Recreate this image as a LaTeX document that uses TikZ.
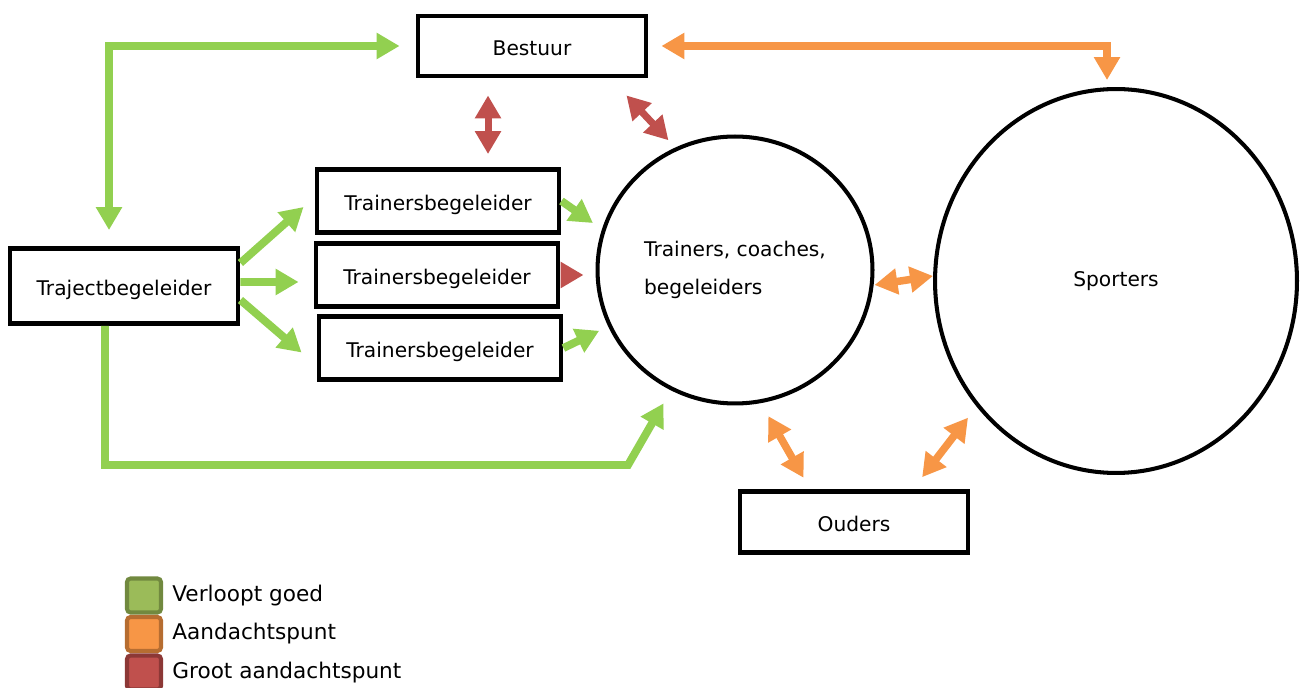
\documentclass[tikz,border=0pt]{standalone}
\usepackage{fontspec}
\setmainfont{DejaVu Sans}
\usetikzlibrary{arrows.meta,shapes.geometric,positioning}

\definecolor{goodgreen}{HTML}{92D050}
\definecolor{warnorange}{HTML}{F79646}
\definecolor{alertred}{HTML}{C0504D}
\definecolor{keygreen}{HTML}{9BBB59}
\definecolor{keygreenline}{HTML}{71893F}
\definecolor{keyorangeline}{HTML}{B66D31}
\definecolor{keyredline}{HTML}{8C3836}

\tikzset{
  box/.style={draw,line width=2.8pt,inner sep=0pt,minimum width=4.56cm,minimum height=1.2cm,
    text height=10.6pt,text depth=0pt,font=\fontsize{11.5}{14}\selectfont},
  tbbox/.style={box,minimum width=4.84cm,minimum height=1.26cm},
  ring/.style={draw,ellipse,line width=2.3pt,inner sep=0pt,align=left,
    font=\fontsize{11.5}{21.5}\selectfont},
  good/.style={goodgreen,line width=4.5pt,line join=miter},
  warn/.style={warnorange,line width=4.3pt,line join=miter},
  alert/.style={alertred,line width=4pt},
  keybox/.style={draw,line width=2.3pt,rounded corners=2pt,minimum size=0.68cm,inner sep=0pt},
  keytext/.style={inner sep=0pt,anchor=west,font=\fontsize{12.3}{14}\selectfont}
}

\begin{document}
\begin{tikzpicture}[x=0.02cm,y=-0.02cm,>={Triangle[length=0.46cm,width=0.5cm]}]
\useasboundingbox (0,0) rectangle (1300,688);

% boxes and circles
\node[box] (bestuur) at (532,46) {Bestuur};
\node[box,minimum height=1.5cm] (traject) at (124,286) {Trajectbegeleider};
\node[tbbox] (tb1) at (438,201) {Trainersbegeleider};
\node[tbbox] (tb2) at (437,275) {Trainersbegeleider};
\node[tbbox] (tb3) at (440,348) {Trainersbegeleider};
\node[ring,minimum width=5.5cm,minimum height=5.34cm] (trainers) at (735,270) {Trainers, coaches,\\begeleiders};
\node[ring,minimum width=7.24cm,minimum height=7.68cm] (sporters) at (1116,281) {Sporters};
\node[box,minimum height=1.22cm] (ouders) at (854,522) {Ouders};
\coordinate (bend) at (628,465);

% green arrows
\draw[good,<->,shorten <=0.32cm,shorten >=0.32cm] ([xshift=-0.3cm]traject.north) |- (bestuur.west);
\draw[good,->] ([yshift=0.46cm]traject.east) -- ([xshift=-0.22cm,yshift=-0.12cm]tb1.west);
\draw[good,->] ([yshift=0.08cm]traject.east) -- ([xshift=-0.3cm,yshift=-0.14cm]tb2.west);
\draw[good,->] ([yshift=-0.28cm]traject.east) -- ([xshift=-0.3cm,yshift=-0.09cm]tb3.west);
\draw[good,->,shorten >=0.22cm] (tb1.east) -- (trainers.163);
\draw[good,->,shorten >=0.2cm] (tb3.east) -- (trainers.204);
\draw[good,->,shorten >=0.3cm] ([xshift=-0.38cm]traject.south) |- (bend) -- (trainers.242);

% red arrows
\draw[alert,->,shorten <=0.1cm,shorten >=0.24cm] (tb2.east) -- (trainers.west |- tb2.east);
\draw[alert,<->,shorten <=0.34cm,shorten >=0.26cm] ([xshift=-0.88cm]bestuur.south) -- ([xshift=-0.88cm]bestuur.south |- tb1.north);
\draw[alert,<->,shorten >=0.2cm] ([xshift=-0.44cm,yshift=-0.34cm]bestuur.south east) -- (trainers.116);

% orange arrows
\draw[warn,<->,shorten <=0.26cm,shorten >=0.14cm] (bestuur.east) -| ([xshift=-0.18cm]sporters.north);
\draw[warn,<->] ([yshift=-0.3cm]trainers.east) -- ([yshift=0.1cm]sporters.west);
\draw[warn,<->,shorten <=0.3cm,shorten >=0.26cm] (trainers.281) -- ([xshift=-0.88cm]ouders.north);
\draw[warn,<->,shorten <=0.28cm,shorten >=0.3cm] (sporters.222) -- ([xshift=1.18cm]ouders.north);

% legend
\foreach \fill/\line/\txt [count=\i] in {keygreen/keygreenline/Verloopt goed,
    warnorange/keyorangeline/Aandachtspunt,alertred/keyredline/Groot aandachtspunt}{
  \node[keybox,fill=\fill,draw=\line] (key\i) at (144,557+38.5*\i) {};
  \node[keytext,right=0.18cm of key\i] (keytxt\i) {\txt};
}
\end{tikzpicture}
\end{document}
